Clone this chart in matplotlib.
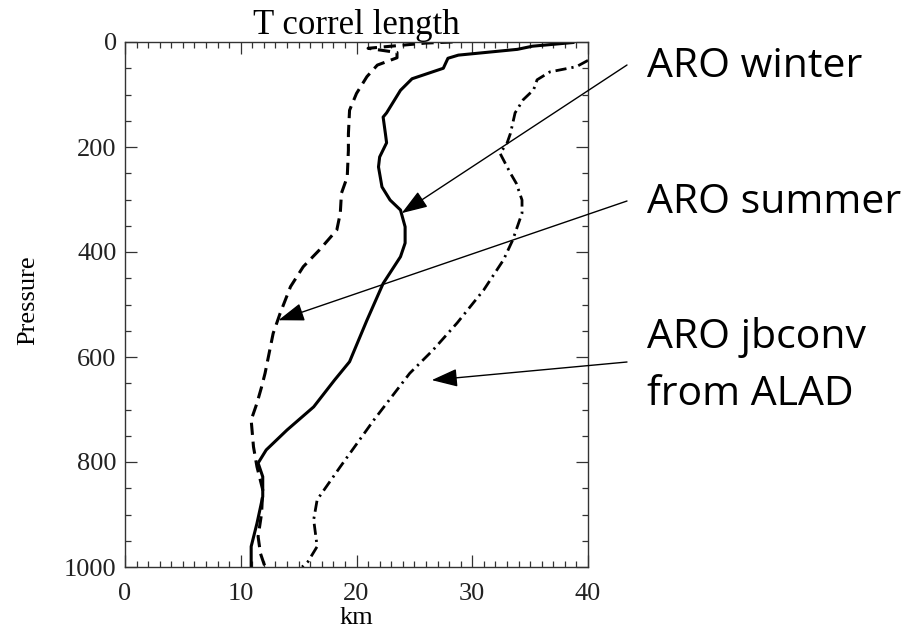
import numpy as np
import matplotlib
matplotlib.use('Agg')
import matplotlib.pyplot as plt
from matplotlib.ticker import MultipleLocator

# ARO winter (solid)
winter_km = [38.7, 35.2, 33.9, 28.8, 27.9, 27.5, 24.8, 23.8, 22.6, 22.3, 22.5, 22.6, 22.0, 21.9,
             22.2, 22.9, 23.8, 24.2, 24.2, 23.8, 22.3, 20.9, 19.4, 18.1, 16.3, 14.0, 12.2, 11.5,
             11.9, 11.9, 11.4, 10.9, 10.9]
winter_p = [1, 8, 14, 25, 31, 50, 70, 92, 135, 143, 175, 192, 219, 238,
            276, 301, 320, 352, 383, 409, 460, 530, 609, 644, 695, 739, 777, 802,
            828, 866, 917, 961, 1000]

# ARO summer (dashed)
summer_km = [28.3, 26.0, 24.0, 21.0, 23.5, 23.5, 21.8, 20.9, 20.0, 19.4, 19.3, 19.3, 19.2, 18.7,
             18.6, 18.3, 16.8, 15.4, 14.3, 13.4, 12.8, 12.1, 11.8, 11.4, 10.9, 11.1, 11.4, 11.9,
             11.8, 11.5, 11.7, 12.1]
summer_p = [0, 2, 6, 12, 20, 30, 44, 66, 98, 130, 175, 206, 257, 288,
            326, 358, 396, 428, 466, 517, 555, 631, 657, 688, 720, 771, 809, 853,
            898, 942, 974, 1000]

# ARO jbconv from ALAD (dash-dot)
jb_km = [40.0, 39.0, 36.7, 35.6, 35.3, 34.4, 33.7, 33.3, 33.0, 32.4, 33.3, 33.8, 34.3, 34.3,
         33.5, 32.7, 31.0, 28.7, 26.6, 24.6, 21.5, 18.6, 16.6, 16.3, 16.6, 15.8, 15.3]
jb_p = [35, 47, 57, 72, 91, 110, 135, 174, 193, 212, 250, 269, 301, 326,
        377, 415, 472, 535, 587, 631, 720, 809, 872, 910, 961, 990, 1000]

labels = ['ARO winter', 'ARO summer', 'ARO jbconv', 'from ALAD']
arrow_tips = [(23.9, 326), (13.25, 530), (26.5, 644)]

W, H = 917, 631
fig = plt.figure(figsize=(W / 100, H / 100), dpi=100)
ax = fig.add_axes([125 / W, 1 - 567 / H, (588 - 125) / W, (567 - 42) / H])

serif = 'Liberation Serif'
ax.plot(winter_km, winter_p, color='black', lw=2.2, solid_joinstyle='round')
ax.plot(summer_km, summer_p, color='black', lw=2.2, linestyle=(0, (4, 2.2)))
ax.plot(jb_km, jb_p, color='black', lw=2.0, linestyle=(0, (4, 1.8, 0.8, 1.8)))

ax.set_xlim(0, 40)
ax.set_ylim(1000, 0)
ax.xaxis.set_major_locator(MultipleLocator(10))
ax.xaxis.set_minor_locator(MultipleLocator(1))
ax.yaxis.set_major_locator(MultipleLocator(200))
ax.yaxis.set_minor_locator(MultipleLocator(50))
ax.tick_params(which='both', direction='in', top=True, right=True, color='#333333', width=0.9)
ax.tick_params(which='major', length=8.5)
ax.tick_params(which='minor', length=4.3)
ax.tick_params(axis='x', pad=11.5)
ax.tick_params(axis='y', pad=6)
for lab in ax.get_xticklabels() + ax.get_yticklabels():
    lab.set_fontfamily(serif)
    lab.set_fontsize(19)
    lab.set_color('#222222')
for s in ax.spines.values():
    s.set_color('#333333')
    s.set_linewidth(1.0)

ax.set_title('T correl length', fontfamily=serif, fontsize=25, pad=5)
ax.set_xlabel('km', fontfamily=serif, fontsize=19, va='baseline')
ax.xaxis.set_label_coords(0.5, -(624 - 567) / 525)
ax.set_ylabel('Pressure', fontfamily=serif, fontsize=19, va='center')
ax.yaxis.set_label_coords((28 - 125) / 463, 1 - (300 - 42) / 525)

# annotation texts and arrows
text_baselines = [77, 213, 348, 405]
for lab, yb in zip(labels, text_baselines):
    fig.text(647 / W, 1 - yb / H, lab, fontfamily='Open Sans', fontsize=29.5,
             va='baseline', ha='left', color='black')

arrow_starts = [65, 201, 362]
for (km, p), ys in zip(arrow_tips, arrow_starts):
    ax.annotate('', xy=(km, p), xycoords='data',
                xytext=(627 / W, 1 - ys / H), textcoords='figure fraction',
                arrowprops=dict(arrowstyle='-|>,head_length=0.8,head_width=0.28',
                                mutation_scale=20, lw=1.0, color='black',
                                shrinkA=0, shrinkB=0),
                annotation_clip=False)

fig.savefig('out.png', dpi=100)
